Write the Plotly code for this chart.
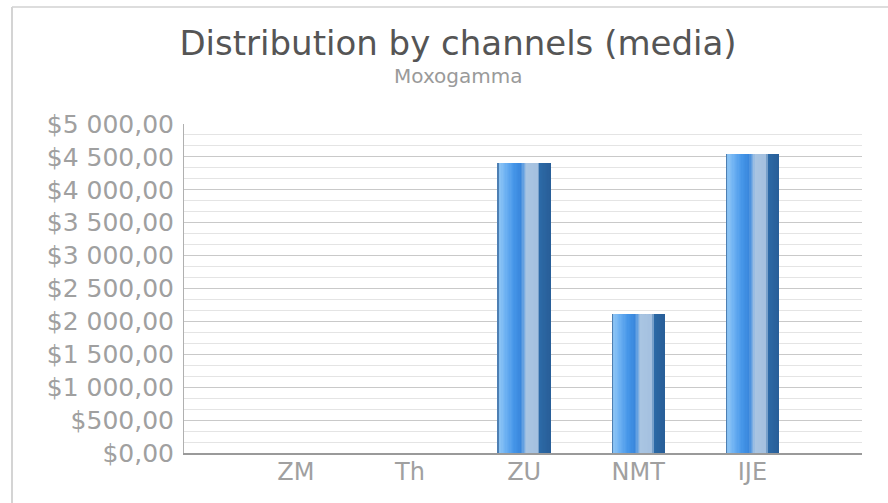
import plotly.graph_objects as go

# Channel spend
categories = ["ZM", "Th", "ZU", "NMT", "IJE"]
values = [0, 0, 4407, 2112, 4544]

# Y axis ticks
tick_values = [0, 500, 1000, 1500, 2000, 2500, 3000, 3500, 4000, 4500, 5000]
tick_labels = ["$0,00", "$500,00", "$1 000,00", "$1 500,00", "$2 000,00", "$2 500,00",
               "$3 000,00", "$3 500,00", "$4 000,00", "$4 500,00", "$5 000,00"]

title_text = "Distribution by channels (media)"
subtitle_text = "Moxogamma"

FONT = "DejaVu Sans"
BAR_WIDTH = 0.46

# Horizontal colour stops that give each bar its cylindrical shading
stops = [
    (0.00, (0x2f, 0x5f, 0x94)),
    (0.04, (0x8e, 0xc6, 0xf6)),
    (0.16, (0x6c, 0xb0, 0xf2)),
    (0.32, (0x44, 0x95, 0xe8)),
    (0.44, (0x3a, 0x87, 0xdc)),
    (0.50, (0x6e, 0xa6, 0xe2)),
    (0.55, (0xa9, 0xc5, 0xe2)),
    (0.78, (0xa4, 0xc0, 0xdf)),
    (0.80, (0x2c, 0x6a, 0xa7)),
    (1.00, (0x28, 0x5e, 0x98)),
]


def colour_at(t):
    for (t0, c0), (t1, c1) in zip(stops[:-1], stops[1:]):
        if t0 <= t <= t1:
            f = 0 if t1 == t0 else (t - t0) / (t1 - t0)
            r, g, b = (round(a + (bb - a) * f) for a, bb in zip(c0, c1))
            return f"rgb({r},{g},{b})"
    r, g, b = stops[-1][1]
    return f"rgb({r},{g},{b})"


fig = go.Figure()

# Base bar (dark body)
fig.add_trace(go.Bar(
    x=categories, y=values, width=BAR_WIDTH, offset=-BAR_WIDTH / 2,
    marker=dict(color="#2b6aa6", line=dict(width=0)),
    hoverinfo="x+y", showlegend=False,
))

# Shading strips laid over the base bar
n_strips = 40
for i in range(n_strips):
    t0 = i / n_strips
    w = BAR_WIDTH / n_strips
    fig.add_trace(go.Bar(
        x=categories, y=values,
        width=w * 1.15, offset=-BAR_WIDTH / 2 + t0 * BAR_WIDTH,
        marker=dict(color=colour_at(t0 + 0.5 / n_strips), line=dict(width=0)),
        hoverinfo="skip", showlegend=False,
    ))

fig.update_layout(
    barmode="overlay",
    width=888, height=503,
    margin=dict(l=184, r=26, t=124, b=50),
    paper_bgcolor="white",
    plot_bgcolor="white",
    font=dict(family=FONT, color="#999999"),
    title=dict(
        text=title_text,
        font=dict(family=FONT, size=34, color="#555555"),
        xref="container", x=458 / 888, xanchor="center",
        yref="container", y=1 - 43 / 503, yanchor="middle",
    ),
    annotations=[dict(
        text=subtitle_text,
        xref="paper", yref="paper",
        x=(458 - 184) / 678, y=(453 - 76) / 329,
        xanchor="center", yanchor="middle", showarrow=False,
        font=dict(family=FONT, size=20, color="#9a9a9a"),
    )],
    shapes=[
        # outer frame: top and left edges
        dict(type="line", xref="paper", yref="paper",
             x0=(12 - 184) / 678, x1=(888 - 184) / 678,
             y0=(453 - 7) / 329, y1=(453 - 7) / 329,
             line=dict(color="#dddddd", width=2), layer="below"),
        dict(type="line", xref="paper", yref="paper",
             x0=(12 - 184) / 678, x1=(12 - 184) / 678,
             y0=(453 - 7) / 329, y1=(453 - 503) / 329,
             line=dict(color="#d4d4d4", width=2), layer="below"),
    ],
    xaxis=dict(
        type="category",
        range=[-0.98, 4.96],
        showgrid=False,
        showline=True, linecolor="#9a9a9a", linewidth=2,
        ticks="", tickfont=dict(family=FONT, size=24, color="#a0a0a0"),
        ticklabelstandoff=-4,
        fixedrange=True,
    ),
    yaxis=dict(
        range=[0, 5000],
        tickvals=tick_values, ticktext=tick_labels,
        tickfont=dict(family=FONT, size=25, color="#a0a0a0"),
        showgrid=True, gridcolor="#c9c9c9", gridwidth=1,
        minor=dict(dtick=500 / 3, tick0=0, showgrid=True, gridcolor="#e4e4e4", gridwidth=1),
        showline=True, linecolor="#b0b0b0", linewidth=1,
        ticks="", ticklabelstandoff=4,
        zeroline=False,
        fixedrange=True,
    ),
)

fig.write_html("out.html")
